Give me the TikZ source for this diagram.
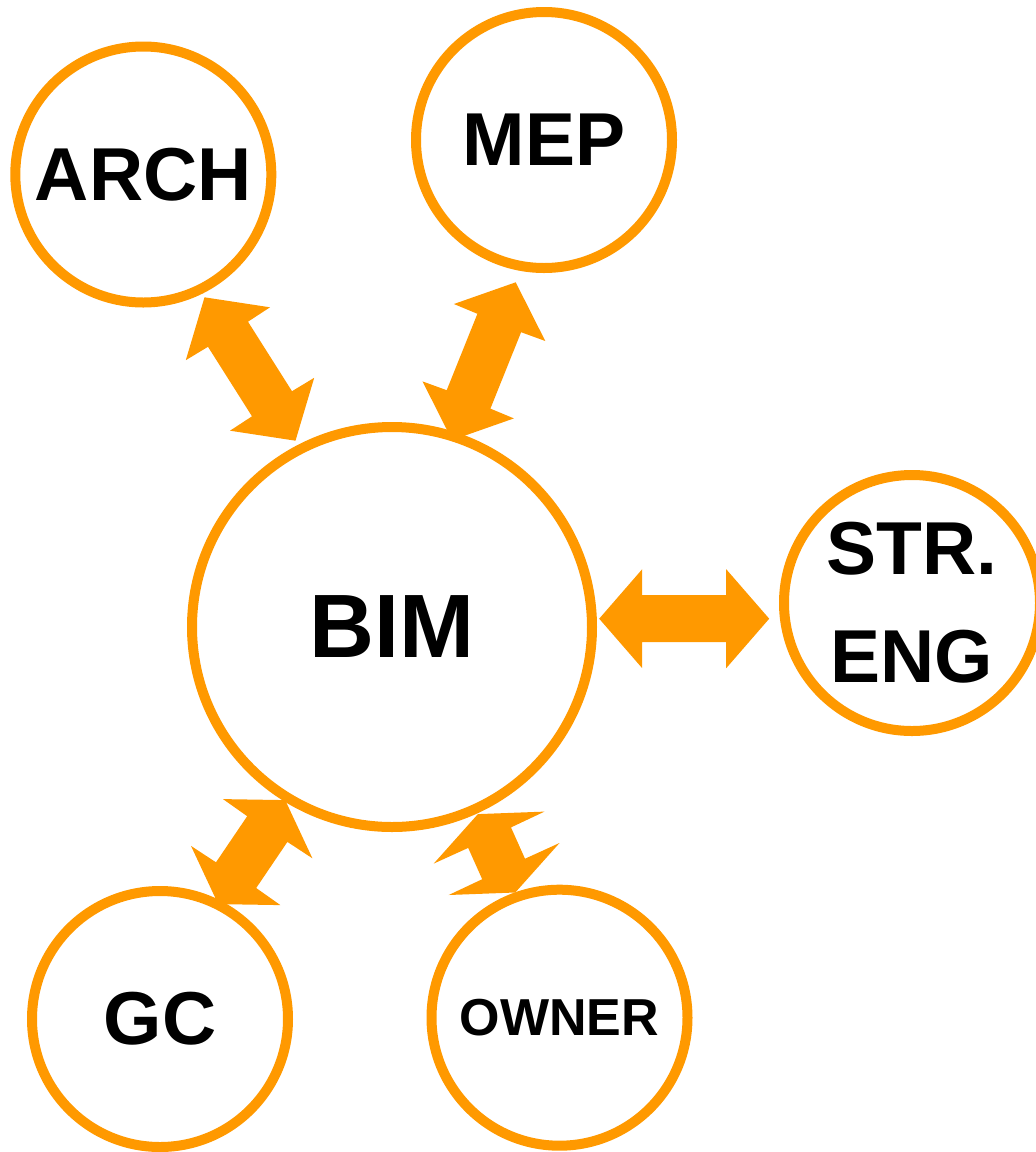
\documentclass[tikz,border=0pt]{standalone}
\usepackage{fontspec}
\setmainfont{Liberation Sans}
\usetikzlibrary{calc}
\definecolor{bimorange}{RGB}{255,153,0}
\def\twoway(#1)(#2)(#3)(#4)(#5)(#6){\fill[bimorange] ($(#1)+(#2)$) -- ($(#1)+(#3)$) -- ($(#1)+(#4)$) -- ($(#1)+(#5)$) -- ($(#1)+(#6)$) -- ($(#1)-(#2)$) -- ($(#1)-(#3)$) -- ($(#1)-(#4)$) -- ($(#1)-(#5)$) -- ($(#1)-(#6)$) -- cycle;}
\tikzset{
	party/.style={circle, draw=bimorange, line width=5pt, fill=white, inner sep=0pt, minimum size=128pt, align=center, font=\bfseries\fontsize{37.5}{54}\selectfont},
	hub/.style={party, minimum size=200pt, font=\bfseries\fontsize{45}{55}\selectfont}
}
\begin{document}
\begin{tikzpicture}[x=0.5pt, y=-0.5pt]
				\useasboundingbox (0,0) rectangle (1035,1152);
				
				\twoway(250,369)(-45.5,-71.7)(20,-61.7)(-2,-47.3)(42,22.2)(64.2,8.8)
				\twoway(483.9,361.2)(31.8,-78.9)(61.4,-20.2)(37.2,-29)(6.5,47.4)(30,57.2)
				\twoway(684.2,618.7)(-85,0)(-42,-49.5)(-42,-23.5)(42,-23.5)(42,-49.5)
				\twoway(251.7,852.1)(33.5,-52)(60.7,6.2)(35.7,-10.2)(4.5,35.9)(28.7,53)
				\twoway(496.6,853.3)(-18.7,-39.2)(47.9,-41.7)(14.4,-25.9)(28.4,5.4)(62.9,-10.3)
				
				\node[hub] (bim) at (392,627) {BIM};
				\node[party] (arch) at (143.3,174.5) {ARCH};
				\node[party] (mep) at (544,140) {MEP};
				\node[party] (streng) at (912,603) {STR.\\ENG};
				\node[party] (gc) at (160,1019) {GC};
				\node[party, font=\bfseries\fontsize{26}{31}\selectfont] (owner) at (559.5,1017.7) {OWNER};
			\end{tikzpicture}
\end{document}
